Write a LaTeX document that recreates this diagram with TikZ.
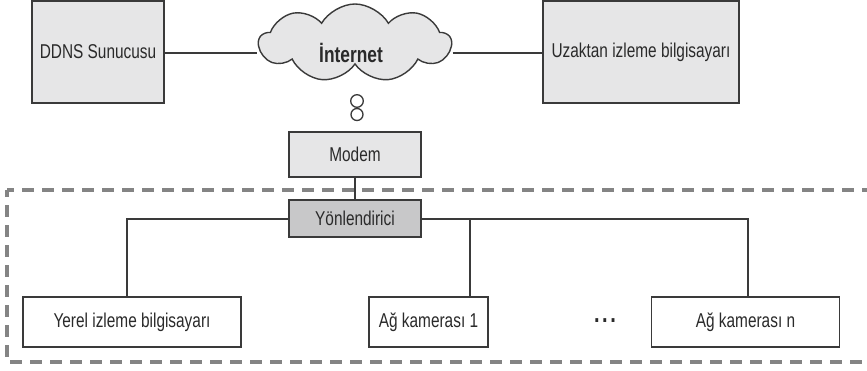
\documentclass[tikz,border=0pt]{standalone}
\usepackage{fontspec}
\setmainfont{Liberation Sans}[FakeStretch=0.77]
\usetikzlibrary{shapes.symbols}
\definecolor{txt}{HTML}{2A2A2A}
\definecolor{edge}{HTML}{3A3A3A}
\definecolor{lightfill}{HTML}{E6E6E7}
\definecolor{darkfill}{HTML}{C8C8C9}
\definecolor{dashgray}{HTML}{848484}
\begin{document}
\begin{tikzpicture}[x=1pt,y=-1pt,
  font=\fontsize{20}{23}\selectfont, text=txt,
  box/.style={draw=edge, line width=1.4pt, inner sep=0pt, text=txt, rectangle},
  conn/.style={draw=edge, line width=1.3pt},
  dashframe/.style={draw=dashgray, line width=3.3pt, dash pattern=on 12pt off 8pt, dash phase=5pt}]
\useasboundingbox (0,0) rectangle (867,370);
% frame
\draw[dashframe] (7,190) -- (867,190);
\draw[dashframe] (7,190) -- (7,362) -- (867,362);
% top row
\node[box, fill=lightfill, minimum width=132, minimum height=102] (ddns) at (98,52) {DDNS Sunucusu};
\node[box, fill=lightfill, minimum width=196, minimum height=102] (uz) at (641,52) {Uzaktan izleme bilgisayarı};
\node[cloud, cloud puffs=9, cloud puff arc=120, aspect=2.4, draw=edge, line width=1.4pt, fill=lightfill,
  minimum width=192, minimum height=78, inner sep=0pt] (net) at (355,43) {};
\node[font=\fontsize{22.5}{25}\selectfont\bfseries] (netlabel) at (351,53) {İnternet};
\draw[edge, line width=1.3pt, fill=white] (357,101) circle[radius=6.3];
\draw[edge, line width=1.3pt, fill=white] (357,114.5) circle[radius=6];
\path[conn] (ddns.east |- 0,53) -- (net.west |- 0,53);
\path[conn] (net.east |- 0,53) -- (uz.west |- 0,53);
% modem and router
\node[box, fill=lightfill, minimum width=132, minimum height=45] (modem) at (355,154.5) {Modem};
\node[box, fill=darkfill, minimum width=132, minimum height=37] (router) at (355,218.5) {Yönlendirici};
\path[conn] (modem.south) -- (router.north);
% bottom row
\node[box, fill=white, minimum width=218, minimum height=50] (yerel) at (132,322) {Yerel izleme bilgisayarı};
\node[box, fill=white, minimum width=119, minimum height=50] (cam1) at (428.5,322) {Ağ kamerası 1};
\node[box, fill=white, minimum width=188, minimum height=50] (camn) at (745.5,322) {Ağ kamerası n};
\node[font=\fontsize{26}{28}\selectfont\bfseries] (dots) at (605,321) {.\kern2.5pt.\kern2.5pt.};
\coordinate (jl) at (127,219);
\coordinate (jm) at (470,219);
\coordinate (jr) at (748,219);
\path[conn] (router.west |- jl) -- (jl) -- (jl |- yerel.north);
\path[conn] (router.east |- jr) -- (jr) -- (jr |- camn.north);
\path[conn] (jm) -- (jm |- cam1.north);
\end{tikzpicture}
\end{document}
